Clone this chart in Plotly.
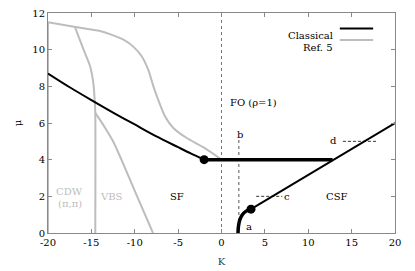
import plotly.graph_objects as go

# Classical boundaries
cl_sf_K = [-20, -17.5, -15, -12.5, -10, -7.5, -5, -3.5, -2]
cl_sf_mu = [8.7, 7.95, 7.25, 6.57, 5.92, 5.27, 4.68, 4.33, 4.0]
cl_fo_K = [-2, 12.8]
cl_fo_mu = [4.0, 4.0]
cl_csf_K = [3.4, 12.8, 20]
cl_csf_mu = [1.3, 3.96, 6.0]
cl_a_K = [1.9, 1.95, 2.1, 2.4, 2.8, 3.4]
cl_a_mu = [0.0, 0.35, 0.7, 1.0, 1.18, 1.3]
dots_K = [-2, 3.4]
dots_mu = [4.0, 1.3]

# Ref. 5 boundaries
r_top_K = [-20, -17, -14, -12.86, -11.3, -10.2, -9.2, -8.45, -7.85, -7.3, -6.5, -5.55, -4.0, -2.1, 0]
r_top_mu = [11.5, 11.25, 11.02, 10.85, 10.55, 10.18, 9.64, 8.91, 8.0, 7.27, 6.36, 5.73, 5.18, 4.68, 4.0]
r_left_K = [-20, -20]
r_left_mu = [0, 11.5]
r_vbs_K = [-16.9, -15.9, -15.15, -14.78, -14.6, -14.55, -14.55]
r_vbs_mu = [11.24, 10.0, 9.1, 8.2, 7.1, 6.55, 0]
r_sf_K = [-14.55, -13.5, -12.5, -10, -7.9]
r_sf_mu = [6.55, 5.8, 5.0, 2.3, 0]

x_ticks = [-20, -15, -10, -5, 0, 5, 10, 15, 20]
x_labels = ["-20", "-15", "-10", "-5", "0", "5", "10", "15", "20"]
y_ticks = [0, 2, 4, 6, 8, 10, 12]
y_labels = ["0", "2", "4", "6", "8", "10", "12"]

GRAY = "#bdbdbd"
FONT = "DejaVu Serif, Liberation Serif, serif"

fig = go.Figure()

def add(x, y, color, w, dash=None, shape="linear"):
    fig.add_trace(go.Scatter(x=x, y=y, mode="lines",
                             line=dict(color=color, width=w, dash=dash,
                                       shape=shape, smoothing=0.8 if shape == "spline" else None),
                             showlegend=False, hoverinfo="skip"))

# reference lines
add([0, 0], [0, 12], "#777777", 1, "dot")
add([2, 2], [0, 5.1], "#555555", 1, "dot")
add([4.0, 7.0], [2.0, 2.0], "#333333", 1, "3px,2px")
add([14.0, 18.0], [5.0, 5.0], "#333333", 1, "3px,2px")

# Ref. 5
add(r_left_K, r_left_mu, GRAY, 2)
add(r_top_K, r_top_mu, GRAY, 2, shape="spline")
add(r_vbs_K, r_vbs_mu, GRAY, 2, shape="spline")
add(r_sf_K, r_sf_mu, GRAY, 2, shape="spline")

# Classical
add(cl_sf_K, cl_sf_mu, "black", 2, shape="spline")
add(cl_fo_K, cl_fo_mu, "black", 3.5)
add(cl_csf_K, cl_csf_mu, "black", 2)
add(cl_a_K, cl_a_mu, "black", 3.5, shape="spline")
fig.add_trace(go.Scatter(x=dots_K, y=dots_mu, mode="markers",
                         marker=dict(color="black", size=9),
                         showlegend=False, hoverinfo="skip"))

labels = [
    ("FO (ρ=1)", 3.7, 7.1, "black"),
    ("b", 2.1, 5.35, "black"),
    ("c", 7.6, 2.0, "black"),
    ("d", 12.9, 5.05, "black"),
    ("a", 3.2, 0.35, "black"),
    ("CSF", 13.3, 2.0, "black"),
    ("SF", -5.1, 2.0, "black"),
    ("VBS", -12.7, 2.0, GRAY),
    ("CDW", -17.5, 2.28, GRAY),
    ("(π,π)", -17.5, 1.62, GRAY),
]
for t, x, y, c in labels:
    fig.add_annotation(x=x, y=y, text=t, showarrow=False,
                       font=dict(family=FONT, size=10, color=c))

# y-axis label (placed as paper annotation to sit further left than margins allow)
fig.add_annotation(xref="paper", yref="paper", x=-0.11, y=0.5, text="μ",
                   textangle=-90, showarrow=False,
                   font=dict(family=FONT, size=10, color="black"))

# legend (gnuplot style: text then sample)
leg = [("Classical", "black", 0.93), ("Ref. 5", GRAY, 0.877)]
for t, c, yy in leg:
    fig.add_annotation(xref="paper", yref="paper", x=0.828, y=yy, text=t,
                       showarrow=False, xanchor="right",
                       font=dict(family=FONT, size=10, color="black"))
    fig.add_shape(type="line", xref="paper", yref="paper",
                  x0=0.841, x1=0.937, y0=yy, y1=yy,
                  line=dict(color=c, width=2))

axis_common = dict(showline=True, linecolor="#888888", linewidth=1, mirror="ticks",
                   ticks="inside", ticklen=4, tickcolor="#888888",
                   showgrid=False, zeroline=False, automargin=False,
                   ticklabeloverflow="allow",
                   tickfont=dict(family=FONT, size=10, color="black"))

fig.update_xaxes(range=[-20, 20], tickvals=x_ticks, ticktext=x_labels,
                 title=dict(text="K", standoff=10, font=dict(family=FONT, size=10)),
                 **axis_common)
fig.update_yaxes(range=[0, 12], tickvals=y_ticks, ticktext=y_labels, **axis_common)

# page body has an 8px default margin, so the figure is sized/offset to compensate
fig.update_layout(width=407, height=263, margin=dict(l=40, r=20, t=5, b=38),
                  plot_bgcolor="white", paper_bgcolor="white",
                  font=dict(family=FONT, size=10))

fig.write_html("out.html")
